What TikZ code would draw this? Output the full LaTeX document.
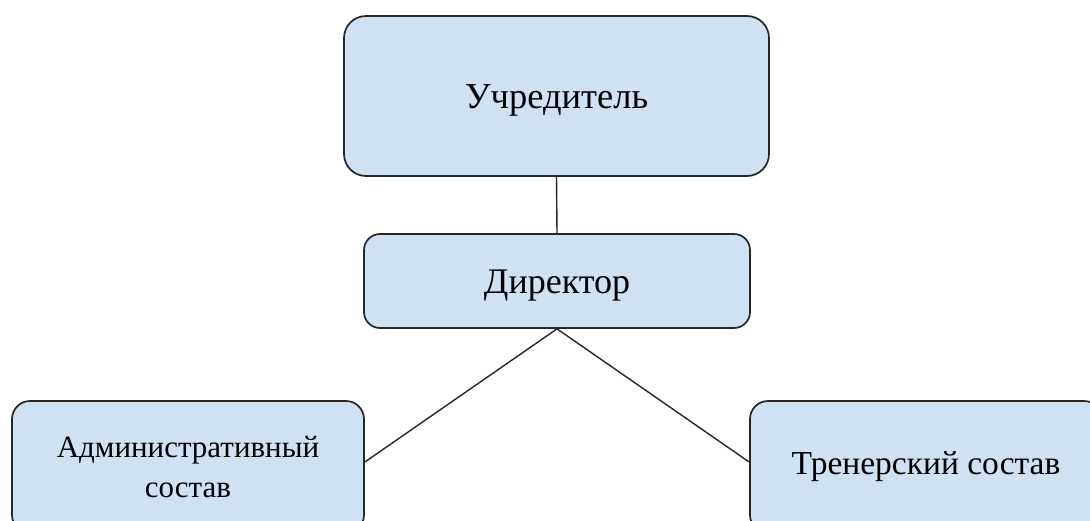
\documentclass[tikz,border=0pt]{standalone}
\usepackage{fontspec}
\setmainfont{Liberation Serif}
\definecolor{boxfill}{HTML}{CFE2F3}
\definecolor{boxline}{HTML}{262626}
\tikzset{
  orgbox/.style={draw=boxline, fill=boxfill, line width=1.7pt, align=center, inner sep=0pt},
  link/.style={draw=boxline, line width=1.4pt}
}
\begin{document}
\begin{tikzpicture}[x=1pt,y=-1pt]
\useasboundingbox (0,0) rectangle (1090,520);
\clip (0,0) rectangle (1090,520);
\node[orgbox, rounded corners=22pt, minimum width=425pt, minimum height=160pt, font=\fontsize{36.5}{42}\selectfont, text height=32pt] (top) at (556.5,96) {Учредитель};
\node[orgbox, rounded corners=16pt, minimum width=386pt, minimum height=94pt, font=\fontsize{36}{42}\selectfont, text height=32pt] (dir) at (557,281) {Директор};
\node[orgbox, rounded corners=18pt, minimum width=352pt, minimum height=132pt, font=\fontsize{31}{40}\selectfont] (adm) at (188,467) {Административный\\состав};
\node[orgbox, rounded corners=18pt, minimum width=352pt, minimum height=132pt, font=\fontsize{33.5}{40}\selectfont] (trn) at (926,467) {Тренерский состав};
\coordinate (admin-in) at (adm.east |- 0,462);
\coordinate (trn-in) at (trn.west |- 0,462);
\draw[link] (top.south) -- (dir.north);
\draw[link] (dir.south) -- (admin-in);
\draw[link] (dir.south) -- (trn-in);
\end{tikzpicture}
\end{document}
